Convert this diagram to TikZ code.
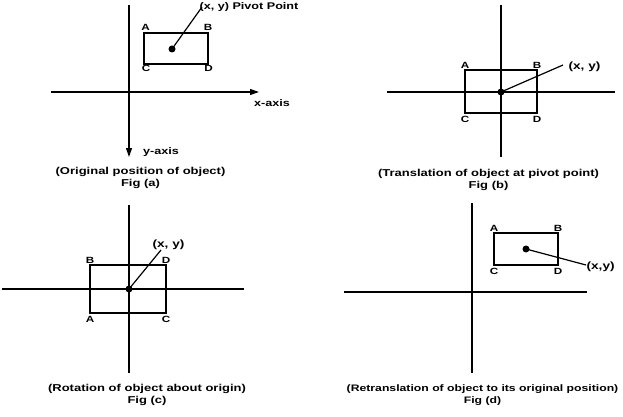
\documentclass[tikz,border=0pt]{standalone}
\usepackage{fontspec}
\setmainfont{Liberation Sans}[FakeStretch=1.3]
\usetikzlibrary{arrows.meta}
\begin{document}
\begin{tikzpicture}[x=1pt,y=-1pt,line width=1.2pt,
  axis/.style={draw=black},
  axarrow/.style={-{Triangle[length=9pt,width=6pt]}},
  obj/.style={draw=black},
  pivot/.style={circle,fill=black,inner sep=0pt,minimum size=7pt},
  corner/.style={font=\bfseries\fontsize{9}{10}\selectfont,inner sep=0pt},
  lbl/.style={font=\bfseries\fontsize{9.7}{11}\selectfont,inner sep=0pt},
  pt/.style={font=\bfseries\fontsize{10.5}{12}\selectfont,inner sep=0pt},
  figcaption/.style={font=\bfseries\fontsize{10}{12}\selectfont,inner sep=0pt,align=center}]
\useasboundingbox[fill=white] (0,0) rectangle (623,417);

% ---------- Fig (a) ----------
\coordinate (aYt) at (129,5);
\coordinate (aYb) at (129,157);
\coordinate (aXl) at (51,92);
\coordinate (aXr) at (259,92);
\draw[axis,axarrow] (aYt) -- (aYb);
\draw[axis,axarrow] (aXl) -- (aXr);
\draw[obj] (144,33) rectangle (208,64);
\node[pivot] (aP) at (172,49) {};
\coordinate (aL) at (202,7);
\draw (aP.center) -- (aL);
\node[lbl,anchor=west] (aLt) at (199,6.5) {(x, y) Pivot Point};
\node[corner] (aA) at (145.5,27) {A};
\node[corner] (aB) at (208,27) {B};
\node[corner] (aC) at (146,68.5) {C};
\node[corner] (aD) at (208.5,68.5) {D};
\node[lbl] (axl) at (272,103.5) {x-axis};
\node[lbl] (ayl) at (161,152) {y-axis};
\node[figcaption] (acap) at (140.5,178) {(Original position of object)\\Fig (a)};

% ---------- Fig (b) ----------
\coordinate (bYt) at (501,5);
\coordinate (bYb) at (501,157);
\coordinate (bXl) at (387,92);
\coordinate (bXr) at (615,92);
\draw[axis] (bYt) -- (bYb);
\draw[axis] (bXl) -- (bXr);
\draw[obj] (465,70) rectangle (537,113);
\node[pivot] (bP) at (501,92) {};
\coordinate (bL) at (563,65);
\draw (bP.center) -- (bL);
\node[pt] (bLt) at (584.5,67) {(x, y)};
\node[corner] (bA) at (465,65.5) {A};
\node[corner] (bB) at (537,65.5) {B};
\node[corner] (bC) at (465,119) {C};
\node[corner] (bD) at (537,119) {D};
\node[figcaption] (bcap) at (488.5,179.5) {(Translation of object at pivot point)\\Fig (b)};

% ---------- Fig (c) ----------
\coordinate (cYt) at (129,205);
\coordinate (cYb) at (129,373);
\coordinate (cXl) at (2,289);
\coordinate (cXr) at (244,289);
\draw[axis] (cYt) -- (cYb);
\draw[axis] (cXl) -- (cXr);
\draw[obj] (90,265) rectangle (166,313);
\node[pivot] (cP) at (129,289) {};
\coordinate (cL) at (161,250);
\draw (cP.center) -- (cL);
\node[pt] (cLt) at (168.5,245) {(x, y)};
\node[corner] (cB) at (90,260) {B};
\node[corner] (cD) at (166,260) {D};
\node[corner] (cA) at (90,319) {A};
\node[corner] (cC) at (166,319) {C};
\node[figcaption] (ccap) at (147,395) {(Rotation of object about origin)\\Fig (c)};

% ---------- Fig (d) ----------
\coordinate (dYt) at (472,203);
\coordinate (dYb) at (472,373);
\coordinate (dXl) at (344,292);
\coordinate (dXr) at (587,292);
\draw[axis] (dYt) -- (dYb);
\draw[axis] (dXl) -- (dXr);
\draw[obj] (494,233) rectangle (558,265);
\node[pivot] (dP) at (526,249) {};
\coordinate (dL) at (586,265);
\draw (dP.center) -- (dL);
\node[pt,anchor=west] (dLt) at (586,266.5) {(x,y)};
\node[corner] (dA) at (494,228) {A};
\node[corner] (dB) at (558,228) {B};
\node[corner] (dC) at (494,271) {C};
\node[corner] (dD) at (558,271) {D};
\node[figcaption,font=\bfseries\fontsize{9.4}{12}\selectfont] (dcap) at (482.5,395) {(Retranslation of object to its original position)\\Fig (d)};
\end{tikzpicture}
\end{document}
